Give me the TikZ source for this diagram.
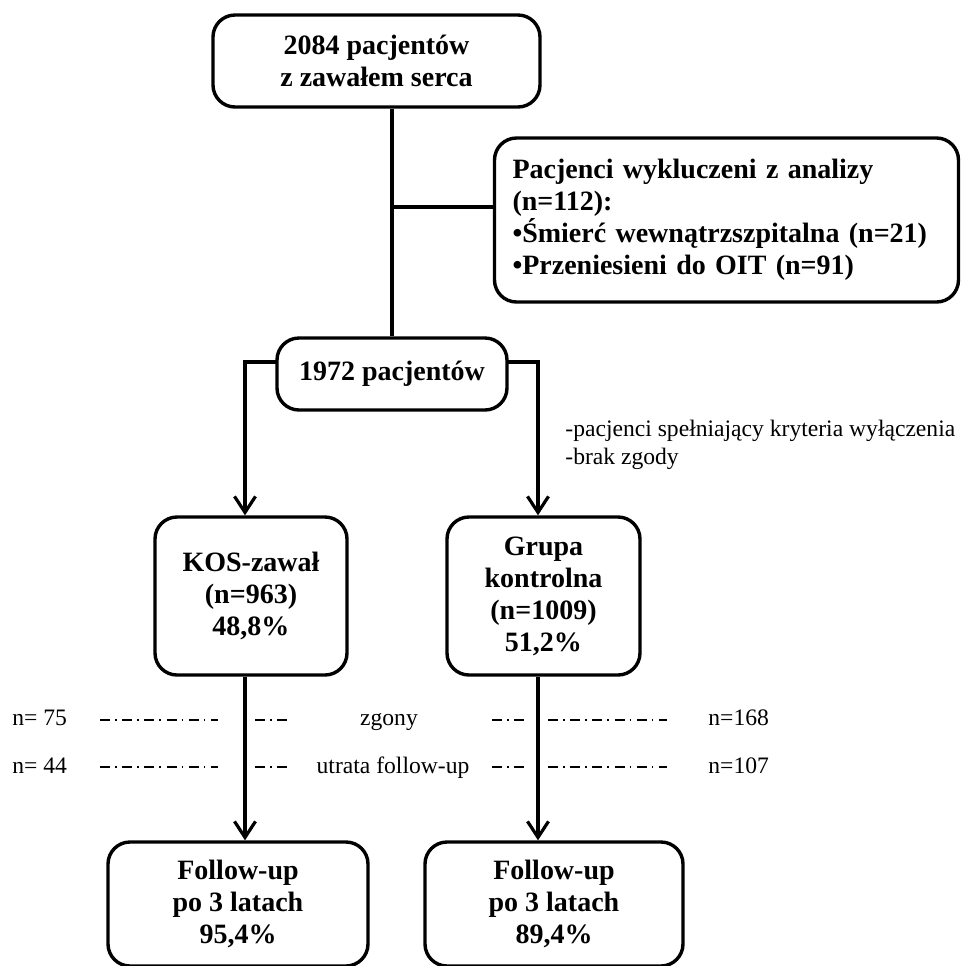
\documentclass[tikz,border=0pt]{standalone}
\usepackage{fontspec}
\setmainfont{Liberation Serif}
\usetikzlibrary{arrows.meta}
\begin{document}
\begin{tikzpicture}[x=0.5pt,y=-0.5pt,
  box/.style={draw, line width=1.7pt, rounded corners=11pt, align=center, inner sep=0pt,
    font=\fontsize{14}{16}\selectfont\bfseries},
  conn/.style={line width=1.6pt},
  arr/.style={conn, -{Straight Barb[length=8pt,width=10.5pt,line width=1.6pt]}},
  dd/.style={line width=1pt, dash pattern=on 5pt off 2.5pt on 0.8pt off 2.8pt},
  lbl/.style={inner sep=0pt, font=\fontsize{11.8}{14}\selectfont}]
\useasboundingbox (0,0) rectangle (961,966);

% boxes
\node[box, minimum width=163.5pt, minimum height=46pt] (top) at (376.5,61) {2084 pacjentów\\z zawałem serca};
\node[box, minimum height=82pt, text width=214pt, inner xsep=9pt, align=left] (excl) at (726.5,220)
  {Pacjenci wykluczeni z analizy\\(n=112):\\•Śmierć wewnątrzszpitalna (n=21)\\•Przeniesieni do OIT (n=91)};
\node[box, minimum width=115pt, minimum height=36pt] (mid) at (392,374) {1972 pacjentów};
\node[box, minimum width=96pt, minimum height=79pt] (kos) at (251,596) {KOS-zawał\\(n=963)\\48,8\%};
\node[box, minimum width=96.5pt, minimum height=79pt] (grupa) at (543.5,596) {Grupa\\kontrolna\\(n=1009)\\51,2\%};
\node[box, minimum width=130pt, minimum height=62pt] (fl) at (238,904) {Follow-up\\po 3 latach\\95,4\%};
\node[box, minimum width=129pt, minimum height=62pt] (fr) at (554,904) {Follow-up\\po 3 latach\\89,4\%};

% helper coordinates
\coordinate (br) at (392,207);
\coordinate (ml) at (277,362);
\coordinate (mr) at (507,362);
\coordinate (xl) at (245,0);
\coordinate (xr) at (538,0);

% connectors
\draw[conn] (top.south -| mid.north) -- (mid.north);
\draw[conn] (br) -- (br -| excl.west);
\draw[arr] (ml) -| (kos.north -| xl);
\draw[arr] (mr) -| (grupa.north -| xr);
\draw[arr] (kos.south -| xl) -- (fl.north -| xl);
\draw[arr] (grupa.south -| xr) -- (fr.north -| xr);

% side note
\node[lbl, anchor=base west] (n1) at (565,436) {-pacjenci spełniający kryteria wyłączenia};
\node[lbl, anchor=base west] (n2) at (565,464) {-brak zgody};

% losses rows
\node[lbl, anchor=base west] (l75) at (12,725) {n= 75};
\node[lbl, anchor=base west] (l44) at (12,773) {n= 44};
\node[lbl, anchor=base] (zg) at (389,725) {zgony};
\node[lbl, anchor=base] (ut) at (393,773) {utrata follow-up};
\node[lbl, anchor=base west] (r168) at (708,725) {n=168};
\node[lbl, anchor=base west] (r107) at (708,773) {n=107};

\coordinate (a1) at (100,720); \coordinate (a2) at (218,720);
\coordinate (b1) at (255,720); \coordinate (b2) at (289,720);
\coordinate (c1) at (492,720); \coordinate (c2) at (526,720);
\coordinate (d1) at (548,720); \coordinate (d2) at (667,720);
\coordinate (e1) at (100,767); \coordinate (e2) at (218,767);
\coordinate (f1) at (255,767); \coordinate (f2) at (289,767);
\coordinate (g1) at (492,767); \coordinate (g2) at (526,767);
\coordinate (h1) at (548,767); \coordinate (h2) at (667,767);
\draw[dd] (a1) -- (a2); \draw[dd] (b1) -- (b2); \draw[dd] (c1) -- (c2); \draw[dd] (d1) -- (d2);
\draw[dd] (e1) -- (e2); \draw[dd] (f1) -- (f2); \draw[dd] (g1) -- (g2); \draw[dd] (h1) -- (h2);
\end{tikzpicture}
\end{document}
